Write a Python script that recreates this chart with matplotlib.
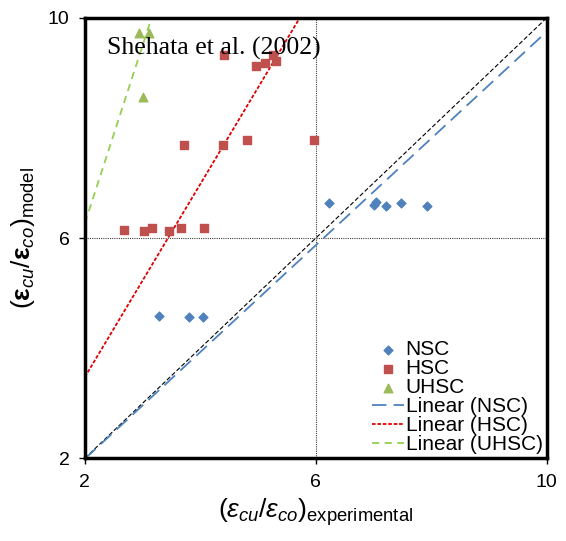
import matplotlib.pyplot as plt
import numpy as np

plt.rcParams['font.family'] = 'Liberation Sans'
plt.rcParams['mathtext.fontset'] = 'custom'
plt.rcParams['mathtext.rm'] = 'Liberation Sans'
plt.rcParams['mathtext.it'] = 'Liberation Sans:italic'
plt.rcParams['mathtext.bf'] = 'Liberation Sans:bold'

# data
nsc_x = [3.28, 3.80, 4.04, 6.22, 7.00, 7.04, 7.21, 7.48, 7.92]
nsc_y = [4.58, 4.56, 4.57, 6.63, 6.60, 6.65, 6.58, 6.63, 6.58]

hsc_x = [2.68, 3.03, 3.16, 3.45, 3.67, 4.07, 3.72, 4.39, 4.81, 5.97,
         4.41, 4.97, 5.12, 5.26, 5.31]
hsc_y = [6.15, 6.13, 6.19, 6.13, 6.19, 6.19, 7.69, 7.69, 7.79, 7.79,
         9.32, 9.13, 9.18, 9.32, 9.22]

uhsc_x = [2.94, 3.11, 3.00]
uhsc_y = [9.73, 9.73, 8.56]

# trendline coefficients (slope, intercept) as shown
nsc_fit = (0.97, 0.05)
hsc_fit = (1.753, -0.03)
uhsc_fit = (3.23, -0.19)

ticks = [2, 6, 10]

fig = plt.figure(figsize=(5.66, 5.41), dpi=100)
ax = fig.add_axes([0.150, 0.153, 0.816, 0.814])

xx = np.linspace(2, 10, 400)

# reference lines
ax.plot([2, 10], [2, 10], color='black', lw=0.8, ls=(0, (4, 2)), zorder=1)
ax.axvline(6, color='#404040', lw=0.8, ls=(0, (1, 1)), zorder=1)
ax.axhline(6, color='#404040', lw=0.8, ls=(0, (1, 1)), zorder=1)

ax.scatter(nsc_x, nsc_y, marker='D', s=20, color='#4F81BD', label='NSC', zorder=3)
ax.scatter(hsc_x, hsc_y, marker='s', s=36, color='#C0504D', label='HSC', zorder=3)
ax.scatter(uhsc_x, uhsc_y, marker='^', s=38, color='#9BBB59', label='UHSC', zorder=3)

ax.plot(xx, nsc_fit[0] * xx + nsc_fit[1], color='#4F81BD', lw=1.3,
        ls=(0, (8, 4)), label='Linear (NSC)', zorder=2)
ax.plot(xx, hsc_fit[0] * xx + hsc_fit[1], color='#E00000', lw=1.3,
        ls=(0, (2, 1)), label='Linear (HSC)', zorder=2)
ax.plot(xx, uhsc_fit[0] * xx + uhsc_fit[1], color='#92D050', lw=1.3,
        ls=(0, (4, 3)), label='Linear (UHSC)', zorder=2)

ax.set_xlim(2, 10)
ax.set_ylim(2, 10)
ax.set_xticks(ticks)
ax.set_yticks(ticks)
ax.tick_params(labelsize=14, direction='out', length=4, width=1, pad=7)
for s in ax.spines.values():
    s.set_linewidth(2.5)

ax.text(2.38, 9.45, 'Shehata et al. (2002)', family='Liberation Serif',
        fontsize=18.5, va='center', ha='left')

ax.set_xlabel(r'$(\varepsilon_{cu}/\varepsilon_{co})_{\mathrm{experimental}}$',
              fontsize=19, labelpad=4)
ax.set_ylabel(r'$(\mathbf{\varepsilon}_{cu}/\mathbf{\varepsilon}_{co})_{\mathrm{model}}$',
              fontsize=19, labelpad=8)

ax.legend(loc='lower right', frameon=False, fontsize=15, handlelength=1.5,
          handletextpad=0.1, labelspacing=0.0, borderaxespad=0.1,
          borderpad=0.1)

fig.savefig('out.png', dpi=100)
